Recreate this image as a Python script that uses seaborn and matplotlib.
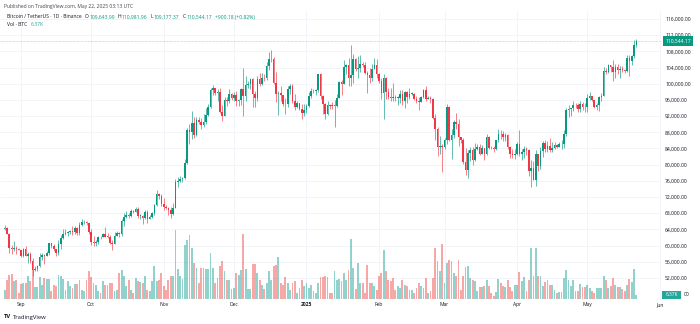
import numpy as np
import pandas as pd
import matplotlib
matplotlib.use("Agg")
import matplotlib.pyplot as plt
import seaborn as sns
from matplotlib.patches import Rectangle

# ---------------- data (BTC/USDT, 1D, Binance) ----------------
start_date = "2024-08-25"
end_date = "2025-05-22"
first_open = 64160

close = [
    64220, 62830, 59420, 59030, 59370, 59120, 58970,
    57300, 59130, 57480, 57970, 56160, 53960, 54160, 54880, 57050, 57650, 57340, 58130, 60540, 60000, 59130,
    58210, 60310, 61760, 62950, 63200, 63350, 63580, 63330, 64300, 63140, 65180, 65770, 65860, 65600, 63330,
    60810, 60650, 60750, 62090, 62070, 62820, 62220, 62130, 60580, 60270, 62450, 63190, 62850, 66050, 67040,
    67610, 67400, 68420, 68360, 69000, 67360, 67380, 66680, 68170, 66630, 67010, 67930, 69910, 72720, 72340, 70220,
    69490, 69370, 68740, 67810, 69360, 75640, 75900, 76540, 76680, 80370, 88650, 87950, 90380, 87330, 91070,
    90560, 89850, 90460, 92310, 94290, 98350, 98890, 97670, 97900, 93010, 91960, 95860, 95640, 97460, 96410,
    97190, 95840, 96000, 98770, 96950, 99740, 99830, 101110, 97360, 96590, 101120, 100000, 101420, 101370, 104300,
    106030, 106140, 100200, 97460, 97760, 97220, 95100, 94880, 98680, 99400, 95790, 94300, 95140, 93720, 92790, 93580,
    94590, 96890, 98140, 98240, 98350, 102280, 96950, 95040, 92500, 94710, 94560, 94520, 94540, 96530, 100500,
    99990, 104080, 104560, 101330, 102260, 106140, 103650, 103960, 104820, 104710, 102620, 102080, 101330, 103730, 104740, 102430,
    100640, 97690, 101400, 97870, 96620, 96550, 96530, 96480, 96500, 97430, 95780, 97870, 96620, 97510,
    97570, 96120, 95770, 95540, 96640, 98330, 96130, 96580, 96270, 91550, 88740, 84350, 84700, 84370,
    86060, 94270, 86120, 87220, 90620, 89960, 86740, 86150, 80730, 78600, 82860, 83720, 81070, 83970, 84340,
    82580, 84010, 82720, 86850, 84170, 84040, 83830, 86080, 87500, 87470, 86900, 87230, 84420, 82650, 82390, 82550,
    85160, 82520, 83100, 83860, 83500, 78370, 79140, 76270, 82570, 79610, 83420, 85280, 83760, 84540, 83610,
    84030, 84930, 84450, 85060, 85170, 87520, 93440, 93690, 93980, 94640, 94630, 93750, 95030, 94260, 94170,
    96490, 96910, 95890, 94320, 94750, 96830, 97030, 103240, 102970, 104700, 104120, 102790, 104110, 103510,
    103760, 103480, 103130, 106450, 105600, 106790, 109640, 110544,
]

high = [
    64960, 64480, 63210, 60230, 61170, 59840, 59450,
    58870, 59400, 59810, 58520, 58320, 57010, 54850, 55300, 58050, 58040, 58000, 58600, 60670, 60660, 60390,
    59210, 61370, 62480, 64130, 64070, 63540, 63800, 64800, 64810, 64700, 65840, 66500, 66260, 66090, 65620,
    64130, 62400, 61470, 62450, 62370, 63000, 64480, 63200, 62540, 61320, 63400, 63480, 63280, 66500, 67950,
    68420, 68000, 68980, 68700, 69400, 69500, 67840, 67440, 68840, 68780, 67450, 68250, 70270, 73620, 72960, 72700,
    71630, 69950, 69400, 69480, 70580, 76400, 76960, 77200, 76850, 81500, 89000, 89950, 93260, 91770, 91850,
    91780, 91600, 92600, 94000, 94900, 99000, 99590, 98650, 98650, 98870, 94650, 96680, 96620, 98700, 97800,
    97900, 98150, 96300, 99000, 103900, 101830, 100550, 101300, 101350, 98270, 101890, 102540, 102650, 102400, 105250,
    107800, 108350, 106520, 102800, 98180, 99540, 97300, 96420, 99520, 99960, 99900, 97350, 95800, 95200, 94900, 95000,
    94950, 97840, 98980, 98780, 98800, 102480, 102730, 97250, 95350, 95840, 95050, 95400, 95900, 97370, 100680,
    100870, 105900, 104990, 106400, 109580, 107240, 106300, 106850, 107000, 105290, 105460, 103200, 103800, 104800, 106460, 106000,
    102750, 101400, 102500, 101700, 99000, 99000, 100130, 97320, 97000, 98340, 98540, 98120, 98150, 98830,
    97960, 97730, 97040, 96700, 96870, 98750, 99500, 96950, 96850, 96510, 92500, 89300, 87000, 85060,
    86500, 95000, 94420, 88900, 91000, 92800, 91200, 86870, 86470, 84120, 83620, 84360, 84350, 85300, 85000,
    85000, 84740, 84100, 87450, 87000, 84700, 84600, 86100, 88770, 88500, 88290, 87800, 87500, 84600, 83900, 83900,
    85500, 88500, 83980, 84700, 84250, 83800, 81240, 80850, 83600, 82700, 84300, 85850, 86000, 85850, 86500,
    85470, 85470, 85000, 85600, 86000, 88460, 93880, 94700, 94000, 95760, 95300, 95200, 95650, 95450, 95230,
    97440, 97900, 96950, 96000, 95200, 96900, 97730, 104140, 104000, 104900, 104600, 105800, 104950, 104800,
    104400, 104500, 103700, 107100, 107050, 107200, 110800, 110980,
]

low = [
    63800, 62800, 58120, 57860, 58740, 57880, 58780,
    57200, 57120, 57420, 55600, 55730, 52550, 53750, 53620, 54580, 56400, 55550, 57320, 57640, 59420, 58700,
    57490, 57610, 59170, 61650, 62700, 62350, 62750, 62700, 62760, 62650, 62670, 64870, 65430, 65050, 62850,
    60200, 59830, 59890, 60460, 61640, 62100, 62100, 61840, 60300, 58900, 60400, 62470, 62050, 62400, 64800,
    66700, 66750, 67150, 68100, 68250, 66820, 66570, 65260, 66500, 65560, 66450, 66800, 67600, 69700, 71430, 69700,
    68800, 69040, 67460, 66800, 67440, 69300, 74420, 75580, 75800, 76500, 80250, 85100, 86250, 86680, 87100,
    90000, 88800, 89350, 90100, 91900, 94000, 97170, 97200, 95800, 92650, 90800, 91900, 94600, 95350, 96000,
    95700, 94500, 94450, 94700, 92100, 95700, 99000, 98700, 94150, 94300, 95700, 99400, 99650, 100700, 100920,
    103330, 105350, 99900, 95600, 92200, 95800, 94600, 92400, 94300, 97540, 95200, 93500, 94000, 93400, 91300, 91900,
    92700, 94200, 96450, 97700, 97250, 97900, 96100, 92500, 91200, 92200, 93800, 93700, 89250, 94350, 96500,
    97300, 99900, 102300, 99500, 99550, 100100, 103100, 101300, 102800, 104100, 102500, 97800, 100200, 100600, 103700, 101500,
    100300, 96200, 91200, 96150, 96150, 95650, 95650, 95700, 94750, 95250, 94850, 94100, 95220, 96200,
    97200, 95900, 95230, 93400, 95650, 96400, 95700, 96100, 95250, 91200, 86050, 82250, 82700, 78250,
    83900, 85050, 85900, 81500, 86500, 88700, 84700, 85250, 80100, 77500, 76600, 80800, 79950, 81000, 83600,
    82300, 82550, 81100, 82300, 83800, 83800, 83200, 83700, 85550, 86300, 85850, 85950, 83800, 81600, 81600, 81300,
    82400, 82200, 81200, 81700, 82400, 77200, 74500, 76200, 74600, 78400, 78900, 82000, 83050, 83200, 83100,
    83050, 83900, 84000, 84300, 83950, 84000, 87000, 91800, 92000, 93300, 93900, 93100, 92900, 93600, 92900,
    93000, 95900, 95700, 94100, 93500, 93350, 95850, 96900, 102300, 102700, 103000, 100700, 101400, 102500,
    101400, 103000, 102700, 102900, 102000, 104600, 106400, 109180,
]

# volume, thousands of BTC
volume_k = [
    13.5, 28.5, 36, 37.5, 27, 28.5, 9, 22.5, 24, 24, 34.5, 27, 43.5, 18, 18, 33, 21, 31.5, 30, 30,
    12, 21, 19.5, 36, 34.5, 30, 13.5, 27, 19.5, 16.5, 22.5, 22.5, 28.5, 13.5, 12, 28.5, 42, 33, 24, 21,
    12, 9, 27, 21, 21, 24, 24, 12, 13.5, 39, 43.5, 34.5, 19.5, 28.5, 13.5, 9, 31.5, 27, 25.5, 24,
    34.5, 13.5, 12, 27, 49.5, 27, 28.5, 39, 19.5, 13.5, 28.5, 34.5,
    34.5, 103.5, 45, 34.5, 30, 81, 88.5, 96, 76.5, 54, 46.5, 24, 46.5, 46.5, 45, 45,
    69, 46.5, 24, 31.5, 49.5, 57, 42, 28.5, 28.5, 15, 16.5, 39, 36, 43.5, 97.5, 45, 15, 15, 52.5, 52.5,
    39, 28.5, 21, 15, 24, 42, 28.5, 49.5, 51, 63, 24, 21, 33, 24, 13.5, 24, 27, 9, 16.5, 28.5,
    19.5, 24, 16.5, 21, 12, 9, 24, 33, 33, 34.5, 33, 9, 9, 42, 28.5, 30, 27, 39, 28.5, 43.5,
    90, 46.5, 15, 54, 24, 24, 9, 51, 24, 24, 19.5, 13.5, 34.5, 39, 73.5, 42, 28.5, 27, 31.5, 13.5,
    19.5, 16.5, 28.5, 21, 19.5, 13.5, 13.5, 9, 16.5, 24, 19.5, 16.5, 31.5, 9,
    12, 31.5, 76.5, 57, 42, 82.5, 24, 54, 58.5, 57, 39, 34.5, 58.5, 13.5, 34.5,
    48, 49.5, 31.5, 28.5, 27, 12, 18, 18, 19.5, 28.5, 19.5, 9, 4.5, 10.5, 30, 24, 19.5, 18, 28.5, 18,
    12, 21, 21, 40.5, 27, 33, 12, 28.5, 76.5, 34.5, 76.5, 34.5, 34.5, 19.5, 25.5, 28.5, 21, 21, 13.5, 9,
    10.5, 10.5, 31.5, 43.5, 28.5, 19.5, 28.5, 12, 12, 22.5, 18, 18, 21, 16.5, 12, 9, 16.5, 16.5, 16.5, 34.5,
    28.5, 16.5, 19.5, 31.5, 21, 18, 18, 15, 12, 21, 30, 25.5, 45, 6.37,
]

price_ticks = [52000, 56000, 60000, 64000, 68000, 72000, 76000, 80000,
               84000, 88000, 92000, 96000, 100000, 104000, 108000, 112000, 116000]
month_starts = ["2024-09-01", "2024-10-01", "2024-11-01", "2024-12-01", "2025-01-01",
                "2025-02-01", "2025-03-01", "2025-04-01", "2025-05-01", "2025-06-01"]
month_labels = ["Sep", "Oct", "Nov", "Dec", "2025", "Feb", "Mar", "Apr", "May", "Jun"]

# ---------------- figure ----------------
sns.set_theme(style="white")
plt.rcParams["font.family"] = ["Open Sans", "DejaVu Sans"]

W, H = 700, 324
fig = plt.figure(figsize=(W / 100, H / 100), dpi=100)
fig.patch.set_facecolor("white")

dates = pd.date_range(start_date, end_date, freq="D")
idx = np.asarray((dates - dates[0]).days, dtype=float)
close_a = np.asarray(close, dtype=float)
open_a = np.concatenate([[first_open], close_a[:-1]])
high_a = np.maximum(np.asarray(high, dtype=float), np.maximum(open_a, close_a))
low_a = np.minimum(np.asarray(low, dtype=float), np.minimum(open_a, close_a))
up = close_a >= open_a

UP, DOWN = "#089981", "#F23645"
GRID = "#f0f3fa"
TXT = "#131722"

pane_l, pane_r, pane_t, pane_b = 0, 661, 11, 300
rect = [pane_l / W, 1 - pane_b / H, (pane_r - pane_l) / W, (pane_b - pane_t) / H]

px_per_k = 4.045
ymax = 116000 + (19 - pane_t) / px_per_k * 1000
ymin = 116000 - (pane_b - 19) / px_per_k * 1000
x0 = -(4.6 - pane_l) / 2.34
x1 = (pane_r - 4.6) / 2.34

month_pos = np.asarray((pd.to_datetime(month_starts) - dates[0]).days, dtype=float)

# price axis (bottom layer, holds grid & ticks)
axp = fig.add_axes(rect)
axp.set_facecolor("white")
axp.set_xlim(x0, x1)
axp.set_ylim(ymin, ymax)
for s in axp.spines.values():
    s.set_visible(False)
axp.set_yticks(price_ticks)
axp.set_yticklabels([f"{v:,.2f}" for v in price_ticks])
axp.yaxis.tick_right()
axp.tick_params(axis="y", length=0, pad=3.0, labelsize=3.6, labelcolor=TXT)
axp.set_xticks(month_pos)
axp.set_xticklabels(month_labels)
axp.tick_params(axis="x", length=0, pad=1.6, labelsize=3.6, labelcolor=TXT)
for lab in axp.get_xticklabels():
    if lab.get_text() == "2025":
        lab.set_fontweight("bold")
axp.grid(True, color=GRID, lw=0.6)
axp.set_axisbelow(True)

# volume axis
axv = fig.add_axes(rect, sharex=axp)
axv.patch.set_alpha(0)
vdf = pd.DataFrame({"day": idx, "vol": volume_k, "dir": np.where(up, "up", "down")})
sns.barplot(data=vdf, x="day", y="vol", hue="dir", palette={"up": "#26a69a", "down": "#ef5350"},
            native_scale=True, dodge=False, legend=False, width=0.78, alpha=0.5,
            saturation=1, errorbar=None, linewidth=0, ax=axv)
axv.set_ylim(-0.7 * 1.5, (pane_b - pane_t) * 1.5)
axv.set_xlim(x0, x1)
axv.set_axis_off()

# candles on a top layer
axc = fig.add_axes(rect, sharex=axp)
axc.patch.set_alpha(0)
axc.set_ylim(ymin, ymax)
axc.set_xlim(x0, x1)
axc.set_axis_off()
cols = np.where(up, UP, DOWN)
axc.axhline(close_a[-1], color="#b2b5be", lw=0.5, ls=(0, (1, 1)), alpha=0.9)
axc.vlines(idx, low_a, high_a, colors=cols, lw=0.45)
body_lo = np.minimum(open_a, close_a)
body_h = np.maximum(np.abs(close_a - open_a), 120)
axc.bar(idx, body_h, bottom=body_lo, width=0.68, color=cols, linewidth=0)

# ---------------- texts ----------------
fig.canvas.draw()
renderer = fig.canvas.get_renderer()


def seq_text(x_px, y_px, pieces, size):
    x = x_px
    for s, col, w, gap in pieces:
        x += gap
        t = fig.text(x / W, 1 - y_px / H, s, color=col, fontsize=size, va="center",
                     ha="left", fontweight=w)
        x += t.get_window_extent(renderer=renderer).width


fig.text(4 / W, 1 - 6.5 / H, "Published on TradingView.com, May 22, 2025 03:13 UTC",
         fontsize=3.6, color="#434651", va="center", ha="left")
G = "#089981"
seq_text(7, 17, [("Bitcoin / TetherUS · 1D · Binance", TXT, "normal", 0),
                 ("O", TXT, "normal", 3), ("109,643.99", G, "normal", 0.7),
                 ("H", TXT, "normal", 3), ("110,981.96", G, "normal", 0.7),
                 ("L", TXT, "normal", 3), ("109,177.37", G, "normal", 0.7),
                 ("C", TXT, "normal", 3), ("110,544.17", G, "normal", 0.7),
                 ("+900.18 (+0.82%)", G, "normal", 3)], 3.6)
seq_text(7, 24.5, [("Vol · BTC", TXT, "normal", 0), ("6.37K", "#26a69a", "normal", 3)], 3.6)

# price label boxes on the scale
fig.patches.append(Rectangle((663 / W, 1 - 46 / H), 30 / W, 10 / H, transform=fig.transFigure,
                             facecolor=UP, edgecolor="none"))
fig.text(678 / W, 1 - 41 / H, "110,544.17", color="white", fontsize=3.6, ha="center", va="center")
fig.patches.append(Rectangle((662 / W, 1 - 298.5 / H), 19 / W, 8 / H, transform=fig.transFigure,
                             facecolor="#26a69a", edgecolor="none"))
fig.text(671.5 / W, 1 - 294.5 / H, "6.37K", color="white", fontsize=3.4, ha="center", va="center")
fig.text(683.5 / W, 1 - 294 / H, "00", color=TXT, fontsize=3.6, ha="left", va="center")

# TradingView mark
seq_text(4, 317, [("TV", TXT, "bold", 0), ("TradingView", TXT, "normal", 2)], 4.2)

fig.savefig("out.png", dpi=100, facecolor="white")
